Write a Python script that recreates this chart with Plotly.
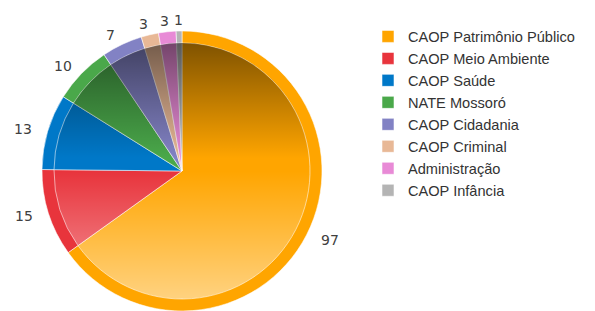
import math
import base64
import plotly.graph_objects as go

# ---- data ----
categories = ["CAOP Patrimônio Público", "CAOP Meio Ambiente", "CAOP Saúde", "NATE Mossoró",
              "CAOP Cidadania", "CAOP Criminal", "Administração", "CAOP Infância"]
values = [97, 15, 13, 10, 7, 3, 3, 1]
colors = ["#FFA500", "#E8343C", "#0078C8", "#4AA84A", "#8282C4", "#E8B896", "#E88AD6", "#B4B4B4"]

# ---- geometry (figure pixels; page has an 8px body margin) ----
OFF = 8
W, H = 595 - OFF, 311 - OFF
CX, CY, R, RIN = 182 - OFF, 171 - OFF, 140, 128
LAB_A, LAB_B = 166, 151   # label ellipse radii (horizontal, vertical)


def dom(r):
    return dict(x=[(CX - r) / W, (CX + r) / W], y=[(H - CY - r) / H, (H - CY + r) / H])


line = dict(color="rgba(255,255,255,0.55)", width=1)
fig = go.Figure()
fig.add_trace(go.Pie(labels=categories, values=values, marker=dict(colors=colors, line=line),
                     sort=False, direction="clockwise", rotation=0, textinfo="none",
                     domain=dom(R), showlegend=True, hoverinfo="label+value"))
fig.add_trace(go.Pie(labels=categories, values=values, marker=dict(colors=colors, line=line),
                     sort=False, direction="clockwise", rotation=0, textinfo="none",
                     domain=dom(RIN), showlegend=False, hoverinfo="label+value"))

# gradient overlay on inner disc (dark top, light bottom)
svg = ('<svg xmlns="http://www.w3.org/2000/svg" width="256" height="256" viewBox="0 0 256 256">'
       '<defs><linearGradient id="g" x1="0" y1="0" x2="0" y2="1">'
       '<stop offset="0" stop-color="#000" stop-opacity="0.5"/>'
       '<stop offset="0.45" stop-color="#000" stop-opacity="0"/>'
       '<stop offset="0.5" stop-color="#fff" stop-opacity="0"/>'
       '<stop offset="1" stop-color="#fff" stop-opacity="0.5"/>'
       '</linearGradient></defs><circle cx="128" cy="128" r="128" fill="url(#g)"/></svg>')
src = "data:image/svg+xml;base64," + base64.b64encode(svg.encode()).decode()
fig.add_layout_image(dict(source=src, xref="paper", yref="paper",
                          x=(CX - RIN) / W, y=(H - CY + RIN) / H,
                          sizex=2 * RIN / W, sizey=2 * RIN / H,
                          xanchor="left", yanchor="top", sizing="stretch", layer="above"))

# value labels outside the slices
total = sum(values)
cum = 0
for v in values:
    th = (cum + v / 2) / total * 2 * math.pi
    cum += v
    px = CX + LAB_A * math.sin(th)
    py = CY - LAB_B * math.cos(th)
    fig.add_annotation(x=px / W, y=1 - py / H, xref="paper", yref="paper", text=str(v),
                       showarrow=False, xanchor="center", yanchor="middle",
                       font=dict(family="DejaVu Sans", size=14, color="#404040"))

fig.update_layout(
    width=W, height=H, margin=dict(l=0, r=0, t=0, b=0),
    paper_bgcolor="white", plot_bgcolor="white",
    legend=dict(x=360 / W, y=0.959, xanchor="left", yanchor="top",
                font=dict(family="Liberation Sans", size=14.6, color="#333333"),
                bgcolor="rgba(0,0,0,0)"),
)

fig.write_html("out.html")
